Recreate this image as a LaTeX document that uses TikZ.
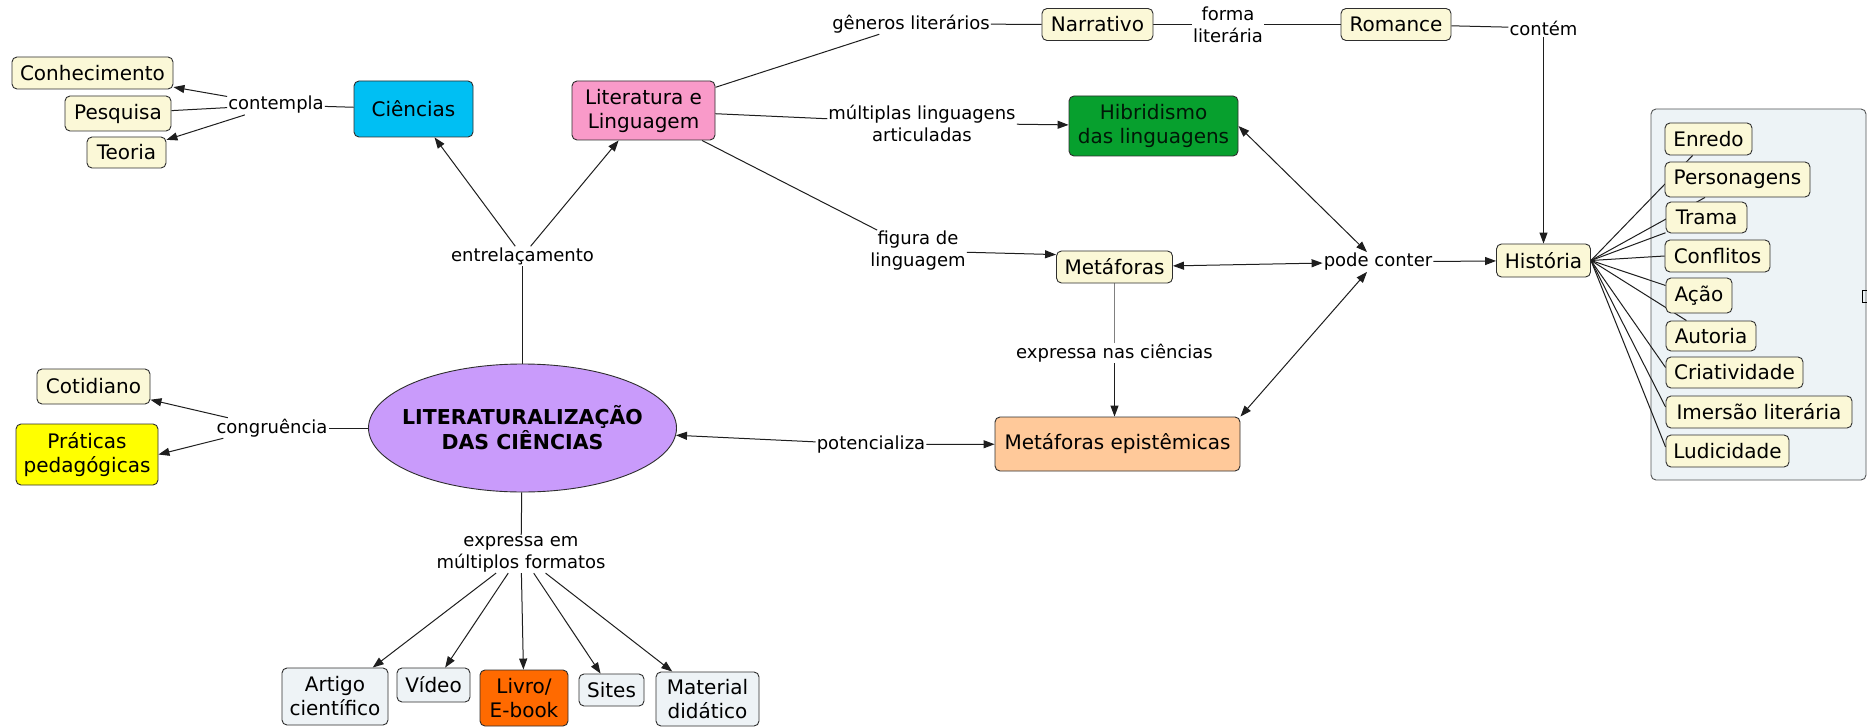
\documentclass[tikz,border=0pt]{standalone}
\usepackage{fontspec}
\setmainfont{DejaVu Sans}
\usetikzlibrary{arrows.meta,shapes.geometric,calc}

\definecolor{cream}{HTML}{FBF8D7}
\definecolor{cienc}{HTML}{00BFF3}
\definecolor{rosa}{HTML}{F99AC9}
\definecolor{verde}{HTML}{07A02E}
\definecolor{pessego}{HTML}{FFC99A}
\definecolor{lilas}{HTML}{C99BFB}
\definecolor{amarelo}{HTML}{FFFF00}
\definecolor{laranja}{HTML}{FF6A00}
\definecolor{palido}{HTML}{EEF3F6}
\definecolor{grupo}{HTML}{EDF3F6}
\definecolor{borda}{HTML}{2E2E2E}
\definecolor{linha}{HTML}{1E1E1E}

\pgfdeclarelayer{back}
\pgfsetlayers{back,main}

\tikzset{
  concept/.style={draw=borda, line width=0.9pt, rounded corners=5pt, fill=cream,
    align=center, inner sep=0pt, font=\fontsize{20}{24}\selectfont, text=black},
  fmt/.style={concept, fill=palido},
  lbl/.style={inner sep=1pt, align=center, font=\fontsize{18}{22}\selectfont, text=black},
  link/.style={draw=linha, line width=1pt},
  arr/.style={link, -{Triangle[length=11pt,width=8pt]}},
  darr/.style={link, {Triangle[length=11pt,width=8pt]}-{Triangle[length=11pt,width=8pt]}},
}

\begin{document}
\begin{tikzpicture}[x=1pt, y=-1pt]
\useasboundingbox (0,0) rectangle (1867,727);

% central concept: the ellipse and its title
\node[ellipse, draw=borda, line width=0.9pt, fill=lilas, minimum width=308pt, minimum height=128pt,
      inner sep=0pt] (lit) at (522.5,428) {};
\node[align=center, inner sep=0pt, font=\bfseries\fontsize{20.5}{25}\selectfont]
      (littxt) at (lit.center) {LITERATURALIZAÇÃO\\DAS CIÊNCIAS};

% upper left branch
\node[concept, fill=cienc, minimum width=119pt, minimum height=56pt] (cien) at (413.5,109) {Ciências};
\node[lbl] (cont) at (276,105) {contempla};
\node[concept, minimum width=161pt, minimum height=32pt] (conh) at (92.5,73) {Conhecimento};
\node[concept, minimum width=106pt, minimum height=35pt] (pesq) at (118,113.5) {Pesquisa};
\node[concept, minimum width=79pt, minimum height=31pt] (teor) at (126.5,152.5) {Teoria};
\node[lbl] (entre) at (522.5,256) {entrelaçamento};

% literature branch
\node[concept, fill=rosa, minimum width=143pt, minimum height=59pt] (litl) at (643.5,110.5) {Literatura e\\Linguagem};
\node[lbl] (gen) at (911,24) {gêneros literários};
\node[concept, minimum width=111pt, minimum height=32pt] (narr) at (1097.5,24.5) {Narrativo};
\node[lbl] (forma) at (1228,24.5) {forma\\literária};
\node[concept, minimum width=110pt, minimum height=32pt] (rom) at (1396,24.5) {Romance};
\node[lbl] (contem) at (1543.5,28) {contém};
\node[lbl] (mult) at (922,123) {múltiplas linguagens\\articuladas};
\node[concept, fill=verde, minimum width=169pt, minimum height=60pt, text=black!85!verde] (hib) at (1153.5,126) {Hibridismo\\das linguagens};
\node[lbl] (fig) at (918,251) {figura de\\linguagem};
\node[concept, minimum width=116pt, minimum height=32pt] (meta) at (1114.5,267) {Metáforas};
\node[lbl] (enc) at (1114.5,353) {expressa nas ciências};
\node[concept, fill=pessego, minimum width=245pt, minimum height=54pt] (me) at (1117.5,444) {Metáforas epistêmicas};
\node[lbl] (pot) at (871,444.5) {potencializa};
\node[lbl] (pode) at (1378,262) {pode conter};
\node[concept, minimum width=94pt, minimum height=33pt] (hist) at (1543.5,260.5) {História};

% elements of a story
\node[concept, minimum width=87pt,  minimum height=32pt] (enredo) at (1708.5,139) {Enredo};
\node[concept, minimum width=145pt, minimum height=35pt] (perso)  at (1737.5,179.5) {Personagens};
\node[concept, minimum width=81pt,  minimum height=31pt] (trama)  at (1706.5,217.5) {Trama};
\node[concept, minimum width=105pt, minimum height=32pt] (confl)  at (1717.5,256) {Conflitos};
\node[concept, minimum width=66pt,  minimum height=35pt] (acao)   at (1699,295.5) {Ação};
\node[concept, minimum width=90pt,  minimum height=30pt] (autor)  at (1711,336) {Autoria};
\node[concept, minimum width=137pt, minimum height=31pt] (criat)  at (1734.5,372.5) {Criatividade};
\node[concept, minimum width=186pt, minimum height=32pt] (imers)  at (1759,412) {Imersão literária};
\node[concept, minimum width=123pt, minimum height=32pt] (ludic)  at (1727.5,451) {Ludicidade};

% lower left branch
\node[lbl] (cong) at (272,428) {congruência};
\node[concept, minimum width=113pt, minimum height=35pt] (cot) at (93.5,386.5) {Cotidiano};
\node[concept, fill=amarelo, minimum width=142pt, minimum height=61pt] (prat) at (87,454.5) {Práticas\\pedagógicas};

% formats
\node[lbl] (expr) at (521,554) {expressa em\\múltiplos formatos};
\node[fmt, minimum width=106pt, minimum height=57pt] (artigo) at (335,696.5) {Artigo\\científico};
\node[fmt, minimum width=73pt,  minimum height=34pt] (video)  at (433.5,685) {Vídeo};
\node[fmt, fill=laranja, minimum width=88pt, minimum height=56pt] (livro) at (524,698) {Livro/\\E-book};
\node[fmt, minimum width=65pt,  minimum height=32pt] (sites)  at (611.5,690) {Sites};
\node[fmt, minimum width=103pt, minimum height=54pt] (mat)    at (707.5,699) {Material\\didático};

\begin{pgfonlayer}{back}
  \fill[white] (0,0) rectangle (1867,727);
  % frame grouping the story elements
  \draw[draw=black!65!grupo, line width=0.9pt, fill=grupo, rounded corners=5pt] (1651,109) rectangle (1866,480);
  \draw[line width=0.9pt] (1867,290) -- (1862,290) -- (1862,302) -- (1867,302);

  % links
  \draw[link] (cien) -- (cont);
  \draw[arr] (cont) -- (conh);
  \draw[link] (cont) -- (pesq);
  \draw[arr] (cont) -- (teor);
  \draw[link] (lit) -- (entre);
  \draw[arr] (entre) -- (cien);
  \draw[arr] (entre) -- (litl);

  \draw[link] (litl) -- (gen);
  \draw[link] (gen) -- (narr);
  \draw[link] (narr) -- (forma);
  \draw[link] (forma) -- (rom);
  \draw[link] (rom) -- (contem);
  \draw[arr] (contem) -- (hist);

  \draw[link] (litl) -- (mult);
  \draw[arr] (mult) -- (hib);
  \draw[link] (litl) -- (fig);
  \draw[arr] (fig) -- (meta.168);
  \draw[darr] (meta) -- (pode);
  \draw[darr] (hib.east) -- ([xshift=-11pt]pode.north);
  \draw[darr] (me.north east) -- ([xshift=-11pt]pode.south);
  \draw[arr] (pode) -- (hist);
  \draw[link, draw=black!50] (meta) -- (enc);
  \draw[arr] (enc.south) -- (enc.south |- me.north);

  \draw[arr] (pot) -- (lit);
  \draw[arr] (pot) -- (me);

  \draw[link] (lit) -- (cong);
  \draw[arr] (cong) -- (cot);
  \draw[arr] ([xshift=8pt]cong.south west) -- (prat.east);

  \draw[link] (lit) -- (expr);
  \foreach \f in {artigo,video,livro,sites,mat}
    \draw[arr] (expr) -- (\f);

  % story elements fan out from the right side of "História"
  \foreach \e in {enredo,perso,trama,autor}
    \draw[link] (hist.east) -- (\e);
  \draw[link] (hist.east) -- (confl.west);
  \draw[link] (hist.east) -- ([yshift=10pt]acao.west);
  \draw[link] (hist.east) -- ([yshift=5pt]criat.west);
  \draw[link] (hist.east) -- ([yshift=5pt]imers.west);
  \draw[link] (hist.east) -- ([yshift=4pt]ludic.west);
\end{pgfonlayer}
\end{tikzpicture}
\end{document}
